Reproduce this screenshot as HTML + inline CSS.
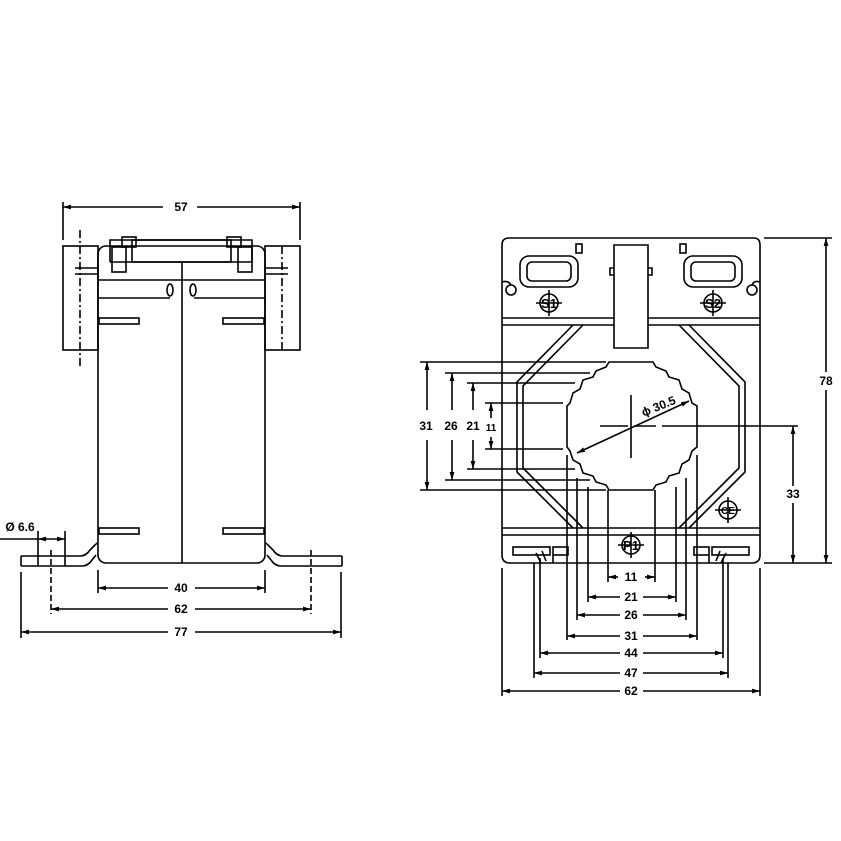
<!DOCTYPE html>
<html><head><meta charset="utf-8"><style>
html,body{margin:0;padding:0;background:#fff}
svg{display:block}
text{font-family:"Liberation Sans",sans-serif;font-weight:bold;font-size:12px;fill:#000}
</style></head><body>
<svg width="841" height="841" viewBox="0 0 841 841" xmlns="http://www.w3.org/2000/svg">
<defs>
<marker id="a" viewBox="0 0 10 6" refX="10" refY="3" markerWidth="8" markerHeight="5" orient="auto-start-reverse" markerUnits="userSpaceOnUse"><path d="M0,0L10,3L0,6z" fill="#000"/></marker>
</defs>
<g fill="none" stroke="#000" stroke-width="1.6">
<rect x="98" y="246" width="167" height="317" rx="8"/>
<line x1="98" y1="280" x2="265" y2="280"/>
<line x1="98" y1="298" x2="170" y2="298"/><line x1="194" y1="298" x2="265" y2="298"/>
<path d="M110,262V240H252V262"/>
<path d="M110,262H252"/>
<rect x="122" y="237" width="14" height="10"/><rect x="227" y="237" width="14" height="10"/>
<rect x="112" y="247" width="14" height="25"/><rect x="238" y="247" width="14" height="25"/>
<rect x="132" y="240" width="99" height="22"/>
<line x1="182" y1="262" x2="182" y2="563"/>
<ellipse cx="170" cy="290" rx="3" ry="6"/><ellipse cx="193" cy="290" rx="3" ry="6"/>
<rect x="99" y="318" width="40" height="6"/><rect x="223" y="318" width="41" height="6"/>
<rect x="99" y="528" width="40" height="6"/><rect x="223" y="528" width="41" height="6"/>
<rect x="63" y="246" width="35" height="104"/><rect x="265" y="246" width="35" height="104"/>
<line x1="282" y1="246" x2="282" y2="350" stroke-dasharray="8,3,2,3"/>
<line x1="80" y1="230" x2="80" y2="368" stroke-dasharray="8,3,2,3"/>
<line x1="75" y1="268" x2="98" y2="268"/><line x1="75" y1="274" x2="98" y2="274"/>
<line x1="265" y1="268" x2="288" y2="268"/><line x1="265" y1="274" x2="288" y2="274"/>
<path d="M21,556H80Q86,556 90,550L95,545Q97,543 98,543"/>
<path d="M21,566H82Q88,566 92,560L96,555"/>
<path d="M21,556V566"/>
<path d="M342,556H283Q277,556 273,550L268,545Q266,543 265,543"/>
<path d="M342,566H281Q275,566 271,560L267,555"/>
<path d="M342,556V566"/>
<line x1="38" y1="531" x2="38" y2="566"/><line x1="65" y1="531" x2="65" y2="566"/>
<line x1="51" y1="550" x2="51" y2="614" stroke-dasharray="6,3"/>
<line x1="311" y1="550" x2="311" y2="614" stroke-dasharray="6,3"/>
<line x1="63" y1="202" x2="63" y2="240"/><line x1="300" y1="202" x2="300" y2="240"/>
<line x1="63" y1="207" x2="163" y2="207" marker-start="url(#a)"/><line x1="197" y1="207" x2="300" y2="207" marker-end="url(#a)"/>
<line x1="98" y1="570" x2="98" y2="593"/><line x1="265" y1="570" x2="265" y2="593"/>
<line x1="98" y1="588" x2="168" y2="588" marker-start="url(#a)"/><line x1="195" y1="588" x2="265" y2="588" marker-end="url(#a)"/>
<line x1="51" y1="609" x2="168" y2="609" marker-start="url(#a)"/><line x1="195" y1="609" x2="311" y2="609" marker-end="url(#a)"/>
<line x1="21" y1="572" x2="21" y2="638"/><line x1="341" y1="572" x2="341" y2="638"/>
<line x1="21" y1="632" x2="168" y2="632" marker-start="url(#a)"/><line x1="195" y1="632" x2="341" y2="632" marker-end="url(#a)"/>
<line x1="0" y1="539" x2="38" y2="539"/>
<line x1="38" y1="539" x2="65" y2="539" marker-start="url(#a)" marker-end="url(#a)"/>

<path d="M502,245Q502,238 509,238H754Q760,238 760,245V555Q760,563 752,563H510Q502,563 502,555Z"/>
<line x1="502" y1="318" x2="760" y2="318"/><line x1="502" y1="325" x2="760" y2="325"/>
<line x1="502" y1="528" x2="760" y2="528"/><line x1="502" y1="535" x2="760" y2="535"/>
<path d="M573,325L517,382V472L573,528"/>
<path d="M583,325L523,386V468L583,528"/>
<path d="M689,325L745,382V472L689,528"/>
<path d="M679,325L739,386V468L679,528"/>
<rect x="520" y="256" width="58" height="31" rx="9"/><rect x="527" y="262" width="44" height="19" rx="5"/>
<rect x="684" y="256" width="58" height="31" rx="9"/><rect x="691" y="262" width="44" height="19" rx="5"/>
<rect x="576" y="244" width="6" height="9"/><rect x="680" y="244" width="6" height="9"/>
<path d="M614,348V245H648V348Z" fill="#fff"/>
<path d="M614,268H610V275H614M648,268H652V275H648"/>
<circle cx="511" cy="290" r="5"/><circle cx="752" cy="290" r="5"/>
<path d="M502,282Q508,280 511,285M760,282Q754,280 752,285"/>
<circle cx="549" cy="303" r="9"/><line x1="536" y1="303" x2="562" y2="303"/><line x1="549" y1="290" x2="549" y2="316"/>
<circle cx="713" cy="303" r="9"/><line x1="700" y1="303" x2="726" y2="303"/><line x1="713" y1="290" x2="713" y2="316"/>
<circle cx="631" cy="545" r="9"/><line x1="618" y1="545" x2="644" y2="545"/><line x1="631" y1="532" x2="631" y2="558"/>
<circle cx="728" cy="510" r="9"/><line x1="715" y1="510" x2="741" y2="510"/><line x1="728" y1="497" x2="728" y2="523"/>
<rect x="513" y="547" width="37" height="8"/><rect x="553" y="547" width="15" height="8"/>
<rect x="712" y="547" width="37" height="8"/><rect x="694" y="547" width="15" height="8"/>
<path d="M536,553L541,563M542,551L546,561"/><path d="M726,553L721,563M720,551L716,561"/>
<line x1="553" y1="555" x2="553" y2="563"/><line x1="709" y1="555" x2="709" y2="563"/>
<path d="M609,362H653L656,367L666,371L669,377L679,380L682,389L689,393L692,403L697,406V447L692,451L689,460L682,464L679,473L669,476L666,482L656,485L653,490H609L606,485L596,482L593,476L583,473L580,464L573,460L570,451L567,447V406L570,403L573,393L580,389L583,380L593,377L596,371L606,367Z" fill="#fff"/>
<line x1="600" y1="426" x2="628" y2="426"/><line x1="634" y1="426" x2="656" y2="426"/><line x1="662" y1="426" x2="798" y2="426"/>
<line x1="631" y1="395" x2="631" y2="458"/>
<line x1="577" y1="453" x2="689" y2="401" marker-start="url(#a)" marker-end="url(#a)"/>
<line x1="420" y1="362" x2="606" y2="362"/><line x1="420" y1="490" x2="606" y2="490"/>
<line x1="445" y1="373" x2="590" y2="373"/><line x1="445" y1="480" x2="590" y2="480"/>
<line x1="467" y1="383" x2="575" y2="383"/><line x1="467" y1="469" x2="575" y2="469"/>
<line x1="485" y1="403" x2="563" y2="403"/><line x1="485" y1="449" x2="563" y2="449"/>
<line x1="427" y1="362" x2="427" y2="410" marker-start="url(#a)"/><line x1="427" y1="440" x2="427" y2="490" marker-end="url(#a)"/>
<line x1="452" y1="373" x2="452" y2="410" marker-start="url(#a)"/><line x1="452" y1="440" x2="452" y2="480" marker-end="url(#a)"/>
<line x1="473" y1="383" x2="473" y2="410" marker-start="url(#a)"/><line x1="473" y1="440" x2="473" y2="469" marker-end="url(#a)"/>
<line x1="491" y1="403" x2="491" y2="418" marker-start="url(#a)"/><line x1="491" y1="437" x2="491" y2="449" marker-end="url(#a)"/>
<line x1="608" y1="490" x2="608" y2="582"/><line x1="655" y1="490" x2="655" y2="582"/>
<line x1="588" y1="487" x2="588" y2="602"/><line x1="676" y1="487" x2="676" y2="602"/>
<line x1="577" y1="478" x2="577" y2="620"/><line x1="686" y1="478" x2="686" y2="620"/>
<line x1="567" y1="455" x2="567" y2="640"/><line x1="697" y1="455" x2="697" y2="640"/>
<line x1="540" y1="558" x2="540" y2="658"/><line x1="723" y1="558" x2="723" y2="658"/>
<line x1="534" y1="563" x2="534" y2="678"/><line x1="728" y1="563" x2="728" y2="678"/>
<line x1="502" y1="568" x2="502" y2="696"/><line x1="760" y1="568" x2="760" y2="696"/>
<line x1="608" y1="577" x2="618" y2="577" marker-start="url(#a)"/><line x1="645" y1="577" x2="655" y2="577" marker-end="url(#a)"/>
<line x1="588" y1="597" x2="620" y2="597" marker-start="url(#a)"/><line x1="643" y1="597" x2="676" y2="597" marker-end="url(#a)"/>
<line x1="577" y1="615" x2="620" y2="615" marker-start="url(#a)"/><line x1="643" y1="615" x2="686" y2="615" marker-end="url(#a)"/>
<line x1="567" y1="636" x2="620" y2="636" marker-start="url(#a)"/><line x1="643" y1="636" x2="697" y2="636" marker-end="url(#a)"/>
<line x1="540" y1="653" x2="620" y2="653" marker-start="url(#a)"/><line x1="643" y1="653" x2="723" y2="653" marker-end="url(#a)"/>
<line x1="534" y1="673" x2="620" y2="673" marker-start="url(#a)"/><line x1="643" y1="673" x2="728" y2="673" marker-end="url(#a)"/>
<line x1="502" y1="691" x2="620" y2="691" marker-start="url(#a)"/><line x1="643" y1="691" x2="760" y2="691" marker-end="url(#a)"/>
<line x1="764" y1="238" x2="832" y2="238"/><line x1="764" y1="563" x2="832" y2="563"/>
<line x1="826" y1="238" x2="826" y2="372" marker-start="url(#a)"/><line x1="826" y1="390" x2="826" y2="563" marker-end="url(#a)"/>
<line x1="793" y1="426" x2="793" y2="486" marker-start="url(#a)"/><line x1="793" y1="503" x2="793" y2="563" marker-end="url(#a)"/>
</g>
<g text-anchor="middle">
<text x="181" y="211">57</text>
<text x="181" y="592">40</text>
<text x="181" y="613">62</text>
<text x="181" y="636">77</text>
<text x="20" y="531">Ø 6.6</text>
<text x="426" y="430">31</text>
<text x="451" y="430">26</text>
<text x="473" y="430">21</text>
<text x="491" y="431" style="font-size:10px">11</text>
<text x="631" y="581">11</text>
<text x="631" y="601">21</text>
<text x="631" y="619">26</text>
<text x="631" y="640">31</text>
<text x="631" y="657">44</text>
<text x="631" y="677">47</text>
<text x="631" y="695">62</text>
<text x="826" y="385">78</text>
<text x="793" y="498">33</text>
<text x="660" y="410" transform="rotate(-22 660 410)">ϕ 30.5</text>
<text x="549" y="308" style="font-size:13px">S1</text>
<text x="713" y="308" style="font-size:13px">S2</text>
<text x="631" y="550" style="font-size:13px">P1</text>
<text x="728" y="514" style="font-size:10px">CE</text>
</g>
</svg>
</body></html>
